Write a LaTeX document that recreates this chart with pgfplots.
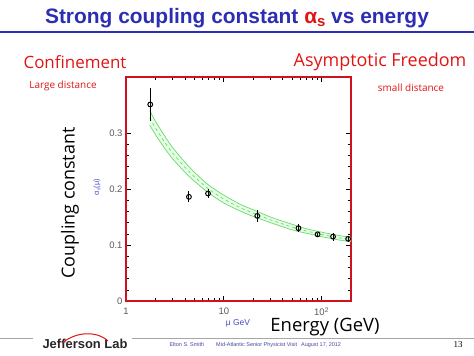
\documentclass[border=0pt]{standalone}
\usepackage{pgfplots}
\pgfplotsset{compat=1.18}
\usepgfplotslibrary{fillbetween}
\usepackage{fontspec}
\setmainfont{Liberation Sans}
\newfontfamily\comic{Open Sans}
\definecolor{titleblue}{RGB}{45,45,180}
\definecolor{redtxt}{RGB}{225,20,20}
\definecolor{bandgreen}{RGB}{110,215,110}
\definecolor{framered}{RGB}{205,20,30}
\definecolor{labblue}{RGB}{70,70,200}

\pgfplotstableread{
x    lo     c      hi
1.75 0.314  0.327  0.340
2    0.297  0.309  0.321
2.5  0.272  0.283  0.294
3    0.254  0.264  0.274
4    0.230  0.239  0.248
5    0.214  0.222  0.230
7    0.193  0.200  0.207
10   0.175  0.182  0.189
15   0.160  0.166  0.172
20   0.151  0.157  0.163
30   0.140  0.145  0.150
50   0.127  0.132  0.137
70   0.121  0.125  0.129
100  0.115  0.119  0.123
150  0.109  0.113  0.117
200  0.106  0.110  0.114
}\band

\pgfplotstableread{
x    y      e
1.77 0.351  0.030
4.4  0.186  0.010
6.9  0.192  0.008
22   0.152  0.011
58   0.130  0.007
91   0.119  0.003
131  0.115  0.007
187  0.111  0.005
}\meas

\begin{document}
\begin{tikzpicture}
\begin{scope}[x=1bp,y=1bp]
\path[use as bounding box] (0,0) rectangle (474,355);
% title
\node[font=\fontsize{21}{24}\selectfont\bfseries, text=titleblue] at (237,337)
  {Strong coupling constant \textcolor{redtxt}{α\raisebox{-0.3ex}{\fontsize{15}{16}\selectfont s}} vs energy};
\draw[titleblue, line width=1.5bp] (0,323) -- (474,323);
% side texts
\node[font=\comic\fontsize{17}{20}\selectfont, text=redtxt] at (75,293) {Confinement};
\node[font=\comic\fontsize{18}{20}\selectfont, text=redtxt] at (380,293) {Asymptotic Freedom};
\node[font=\comic\fontsize{10}{12}\selectfont, text=redtxt] at (63,269) {Large distance};
\node[font=\comic\fontsize{10}{12}\selectfont, text=redtxt] at (411,267) {small distance};
\node[font=\comic\fontsize{18}{20}\selectfont, rotate=90] at (70,152) {Coupling constant};
\node[font=\fontsize{7.5}{8}\selectfont, text=labblue, rotate=90] at (97,168) {α\raisebox{-0.4ex}{\fontsize{5}{5}\selectfont s}(μ)};
\node[font=\fontsize{8.5}{10}\selectfont, text=labblue] at (238,32) {μ GeV};
\node[font=\comic\fontsize{18.5}{20}\selectfont] at (325,28) {Energy (GeV)};
% footer
\draw[gray!70, line width=0.8bp] (0,17) -- (33,17);
\draw[gray!70, line width=0.8bp] (132,17) -- (474,17);
\node[font=\fontsize{13}{14}\selectfont\bfseries, text=black!85] at (85,11) {Jefferson Lab};
\draw[redtxt, line width=1bp] (62,12) .. controls (80,26) and (100,22) .. (108,14);
\node[anchor=west, font=\fontsize{5.5}{6}\selectfont, text=titleblue!70!gray] at (166,10)
  {Elton S. Smith\hspace{12bp}Mid-Atlantic Senior Physicist Visit\hspace{4bp}August 17, 2012};
\node[font=\fontspec{Liberation Serif}\fontsize{9}{10}\selectfont] at (458,10) {13};
\end{scope}

\begin{axis}[
  at={(126bp,54bp)}, anchor=south west,
  scale only axis, width=225bp, height=224bp,
  xmode=log, xmin=1, xmax=200, ymin=0, ymax=0.4,
  xtick={1,10,100}, xticklabels={1,10,10\textsuperscript{2}},
  ytick={0,0.1,0.2,0.3}, yticklabels={0,0.1,0.2,0.3},
  minor y tick num=4,
  tick align=inside,
  major tick length=5bp, minor tick length=3bp,
  every tick/.style={black, line width=0.6bp},
  axis line style={framered, line width=1.4bp},
  tick label style={text=black!65, font=\fontsize{9.5}{10}\selectfont},
  xticklabel style={yshift=-3bp},
]
\addplot[name path=up, bandgreen, line width=0.7bp, smooth] table[x=x, y=hi] {\band};
\addplot[name path=dn, bandgreen, line width=0.7bp, smooth] table[x=x, y=lo] {\band};
\addplot[green!10] fill between[of=up and dn];
\addplot[bandgreen, dashed, line width=0.7bp, smooth] table[x=x, y=c] {\band};
\addplot[only marks, mark=o, mark size=2.4bp, black, line width=1bp,
  error bars/.cd, y dir=both, y explicit, error bar style={black, line width=1bp}, error mark=none]
  table[x=x, y=y, y error=e] {\meas};
\end{axis}
\end{tikzpicture}
\end{document}
